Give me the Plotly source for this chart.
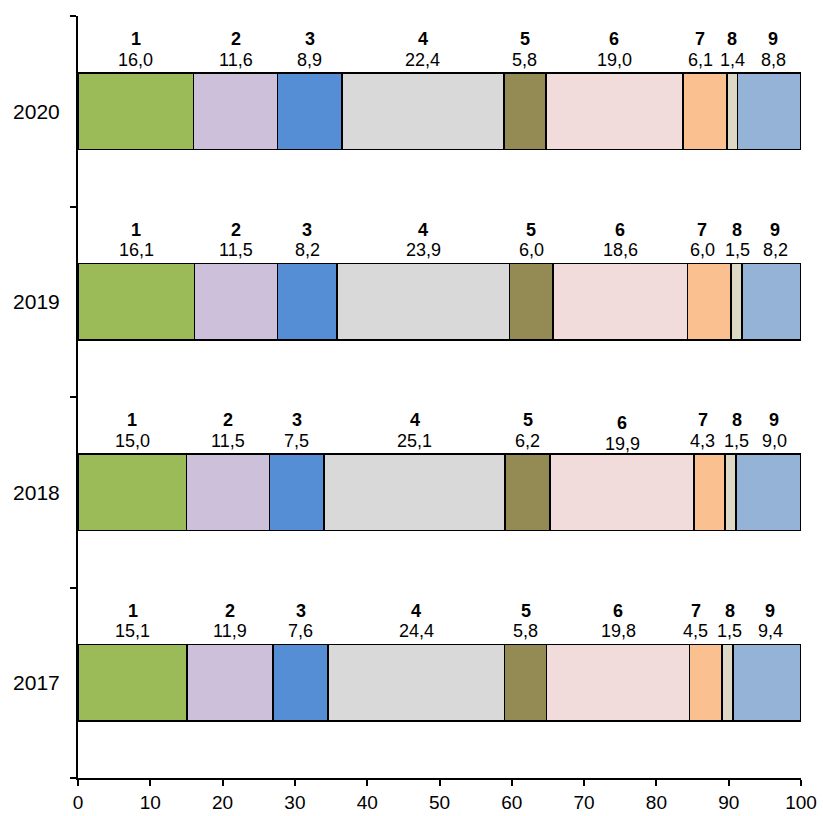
import plotly.graph_objects as go

years = ["2017", "2018", "2019", "2020"]
segments = ["1", "2", "3", "4", "5", "6", "7", "8", "9"]
values = {
    "2017": [15.1, 11.9, 7.6, 24.4, 5.8, 19.8, 4.5, 1.5, 9.4],
    "2018": [15.0, 11.5, 7.5, 25.1, 6.2, 19.9, 4.3, 1.5, 9.0],
    "2019": [16.1, 11.5, 8.2, 23.9, 6.0, 18.6, 6.0, 1.5, 8.2],
    "2020": [16.0, 11.6, 8.9, 22.4, 5.8, 19.0, 6.1, 1.4, 8.8],
}
colors = ["#9BBB59", "#CCC0DA", "#558ED5", "#D9D9D9", "#948A54",
          "#F2DCDB", "#FAC090", "#DDD9C4", "#95B3D7"]
x_ticks = [0, 10, 20, 30, 40, 50, 60, 70, 80, 90, 100]

# manual label nudges (pixels) for the crowded small segments, as in the source
label_xshift = {
    "2017": {"7": -10, "8": 2, "9": 3},
    "2018": {"7": -7, "8": 6, "9": 6},
    "2019": {"7": -7, "8": 1, "9": 4},
    "2020": {"7": -5, "8": 0, "9": 4},
}
label_yshift = {"2018": {"6": -3}}

FONT = "Liberation Sans, Arial, sans-serif"

fig = go.Figure()
for i, seg in enumerate(segments):
    fig.add_trace(go.Bar(
        y=years,
        x=[values[y][i] for y in years],
        name=seg,
        orientation="h",
        width=0.4,
        marker=dict(color=colors[i], line=dict(color="black", width=1.6)),
        showlegend=False,
    ))

annotations = []
for yi, y in enumerate(years):
    cum = 0.0
    for i, seg in enumerate(segments):
        v = values[y][i]
        mid = cum + v / 2
        cum += v
        xs = label_xshift.get(y, {}).get(seg, 0)
        ys = label_yshift.get(y, {}).get(seg, 0)
        annotations.append(dict(
            x=mid, y=yi + 0.378, xref="x", yref="y", text="<b>%s</b>" % seg,
            showarrow=False, font=dict(size=18, color="black", family=FONT),
            xanchor="center", yanchor="middle", xshift=xs, yshift=ys))
        annotations.append(dict(
            x=mid, y=yi + 0.27, xref="x", yref="y",
            text=("%.1f" % v).replace(".", ","),
            showarrow=False, font=dict(size=18, color="black", family=FONT),
            xanchor="center", yanchor="middle", xshift=xs, yshift=ys))

fig.update_layout(
    barmode="stack",
    width=823, height=816,
    margin=dict(l=78, r=22, t=16, b=38, autoexpand=False),
    plot_bgcolor="white", paper_bgcolor="white",
    font=dict(family=FONT, size=18, color="black"),
    annotations=annotations,
    xaxis=dict(
        range=[0, 100], tickvals=x_ticks, ticks="outside", ticklen=6,
        tickwidth=1.5, tickcolor="black", showline=True, linecolor="black",
        linewidth=2, showgrid=False, zeroline=False, automargin=False,
        tickfont=dict(size=19, family=FONT), ticklabeloverflow="allow",
    ),
    yaxis=dict(
        type="category", categoryorder="array", categoryarray=years,
        range=[-0.5, 3.5], tickson="boundaries", ticks="outside", ticklen=6,
        tickwidth=1.5, tickcolor="black", showline=True, linecolor="black",
        linewidth=2, showgrid=False, zeroline=False, automargin=False,
        tickfont=dict(size=21, family=FONT), ticklabelstandoff=12,
    ),
)

fig.write_html(
    "out.html",
    config={"displayModeBar": False},
    post_script=(
        "document.body.style.margin='0';"
        "document.body.style.overflow='hidden';"
    ),
)
